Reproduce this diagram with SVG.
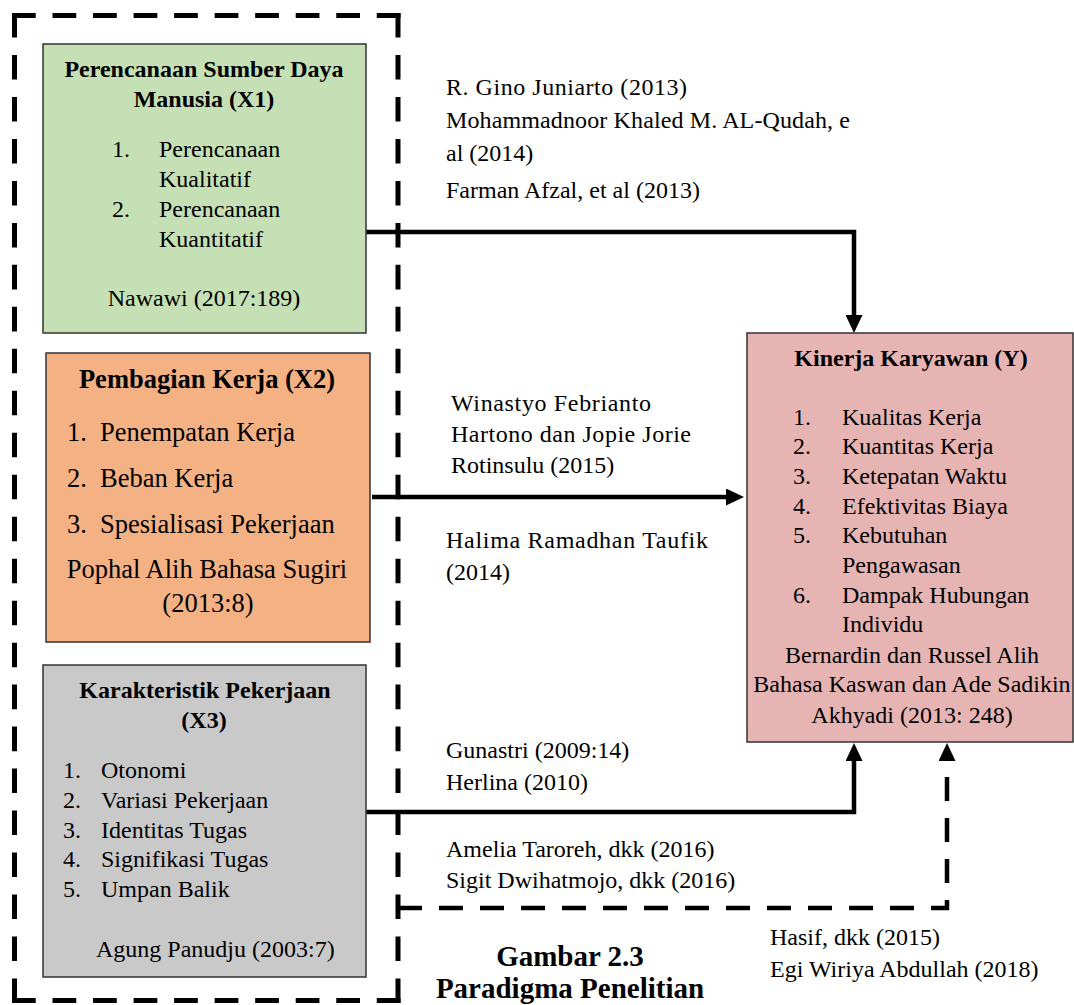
<svg xmlns="http://www.w3.org/2000/svg" width="1074" height="1005" viewBox="0 0 1074 1005">
<style>
  text { font-family: "Liberation Serif", "Times New Roman", serif; fill: #000; }
  .t { font-size: 24px; }
  .b { font-size: 24px; font-weight: bold; }
  .ot { font-size: 26.5px; }
  .ob { font-size: 26.5px; font-weight: bold; }
  .cap { font-size: 29px; font-weight: bold; }
  .c { text-anchor: middle; }
  .box { stroke: #333; stroke-width: 1.5; }
  .dash { fill: none; stroke: #000; stroke-width: 5; stroke-dasharray: 24 17; }
  .conn { fill: none; stroke: #000; stroke-width: 4.5; }
</style>
<defs>
  <marker id="ah" markerUnits="userSpaceOnUse" markerWidth="18" markerHeight="17" viewBox="0 0 18 17" refX="1" refY="8.5" orient="auto">
    <path d="M0,0 L18,8.5 L0,17 z" fill="#000"/>
  </marker>
</defs>

<g id="outer-group">
  <path class="dash" d="M12,15.5 H400.5" pathLength="393"/>
  <path class="dash" d="M398,13 V1003" pathLength="967"/>
  <path class="dash" d="M400.5,1000.5 H12" pathLength="393"/>
  <path class="dash" d="M14.5,1003 V13" pathLength="967"/>
</g>

<g id="connectors">
  <path class="conn" d="M366,232 H854 V316" marker-end="url(#ah)"/>
  <path class="conn" d="M372,497 H727" marker-end="url(#ah)"/>
  <path class="conn" d="M366,812 H854 V760" marker-end="url(#ah)"/>
  <path class="conn" d="M398,908 H947 V760" stroke-width="5" stroke-dasharray="24 17" marker-end="url(#ah)"/>
</g>

<g id="x1">
  <rect class="box" x="43" y="44" width="323" height="289" fill="#C5E0B4"/>
  <text class="b c" x="204" y="77">Perencanaan Sumber Daya</text>
  <text class="b c" x="204" y="107">Manusia (X1)</text>
  <text class="t" x="112" y="157">1.</text>
  <text class="t" x="159" y="157">Perencanaan</text>
  <text class="t" x="159" y="187">Kualitatif</text>
  <text class="t" x="112" y="217">2.</text>
  <text class="t" x="159" y="217">Perencanaan</text>
  <text class="t" x="159" y="247">Kuantitatif</text>
  <text class="t c" x="204" y="306">Nawawi (2017:189)</text>
</g>

<g id="x2">
  <rect class="box" x="46" y="353" width="324" height="289" fill="#F4B183"/>
  <text class="ob c" x="207" y="388">Pembagian Kerja (X2)</text>
  <text class="ot" x="67" y="441">1.</text>
  <text class="ot" x="100" y="441">Penempatan Kerja</text>
  <text class="ot" x="67" y="487">2.</text>
  <text class="ot" x="100" y="487">Beban Kerja</text>
  <text class="ot" x="67" y="533">3.</text>
  <text class="ot" x="100" y="533">Spesialisasi Pekerjaan</text>
  <text class="ot c" x="207" y="578">Pophal Alih Bahasa Sugiri</text>
  <text class="ot c" x="208" y="612">(2013:8)</text>
</g>

<g id="x3">
  <rect class="box" x="43" y="665" width="323" height="312" fill="#C9C9C9"/>
  <text class="b c" x="205" y="698">Karakteristik Pekerjaan</text>
  <text class="b c" x="204" y="728">(X3)</text>
  <text class="t" x="63" y="778">1.</text>
  <text class="t" x="101" y="778">Otonomi</text>
  <text class="t" x="63" y="808">2.</text>
  <text class="t" x="101" y="808">Variasi Pekerjaan</text>
  <text class="t" x="63" y="838">3.</text>
  <text class="t" x="101" y="838">Identitas Tugas</text>
  <text class="t" x="63" y="867">4.</text>
  <text class="t" x="101" y="867">Signifikasi Tugas</text>
  <text class="t" x="63" y="897">5.</text>
  <text class="t" x="101" y="897">Umpan Balik</text>
  <text class="t" x="96" y="957">Agung Panudju (2003:7)</text>
</g>

<g id="y">
  <rect class="box" x="747" y="333" width="326" height="409" fill="#E6B4B2"/>
  <text class="b c" x="911" y="366">Kinerja Karyawan (Y)</text>
  <text class="t" x="793" y="425">1.</text>
  <text class="t" x="842" y="425">Kualitas Kerja</text>
  <text class="t" x="793" y="454">2.</text>
  <text class="t" x="842" y="454">Kuantitas Kerja</text>
  <text class="t" x="793" y="484">3.</text>
  <text class="t" x="842" y="484">Ketepatan Waktu</text>
  <text class="t" x="793" y="514">4.</text>
  <text class="t" x="842" y="514">Efektivitas Biaya</text>
  <text class="t" x="793" y="543">5.</text>
  <text class="t" x="842" y="543">Kebutuhan</text>
  <text class="t" x="842" y="573">Pengawasan</text>
  <text class="t" x="793" y="603">6.</text>
  <text class="t" x="842" y="603">Dampak Hubungan</text>
  <text class="t" x="842" y="632">Individu</text>
  <text class="t c" x="912" y="663">Bernardin dan Russel Alih</text>
  <text class="t c" x="912" y="692">Bahasa Kaswan dan Ade Sadikin</text>
  <text class="t c" x="912" y="723">Akhyadi (2013: 248)</text>
</g>

<g id="labels">
  <text class="t" x="446" y="95" textLength="241" lengthAdjust="spacing">R. Gino Juniarto (2013)</text>
  <text class="t" x="446" y="128" textLength="404" lengthAdjust="spacing">Mohammadnoor Khaled M. AL-Qudah, e</text>
  <text class="t" x="446" y="161">al (2014)</text>
  <text class="t" x="446" y="198">Farman Afzal, et al (2013)</text>
  <text class="t" x="451" y="411" textLength="200" lengthAdjust="spacing">Winastyo Febrianto</text>
  <text class="t" x="451" y="442" textLength="240" lengthAdjust="spacing">Hartono dan Jopie Jorie</text>
  <text class="t" x="451" y="473">Rotinsulu (2015)</text>
  <text class="t" x="446" y="548" textLength="262" lengthAdjust="spacing">Halima Ramadhan Taufik</text>
  <text class="t" x="446" y="580">(2014)</text>
  <text class="t" x="446" y="758">Gunastri (2009:14)</text>
  <text class="t" x="446" y="790">Herlina (2010)</text>
  <text class="t" x="446" y="857">Amelia Taroreh, dkk (2016)</text>
  <text class="t" x="446" y="888">Sigit Dwihatmojo, dkk (2016)</text>
  <text class="t" x="770" y="945">Hasif, dkk (2015)</text>
  <text class="t" x="770" y="977">Egi Wiriya Abdullah (2018)</text>
</g>

<g id="caption">
  <text class="cap c" x="570" y="966">Gambar 2.3</text>
  <text class="cap c" x="570" y="998">Paradigma Penelitian</text>
</g>
</svg>
